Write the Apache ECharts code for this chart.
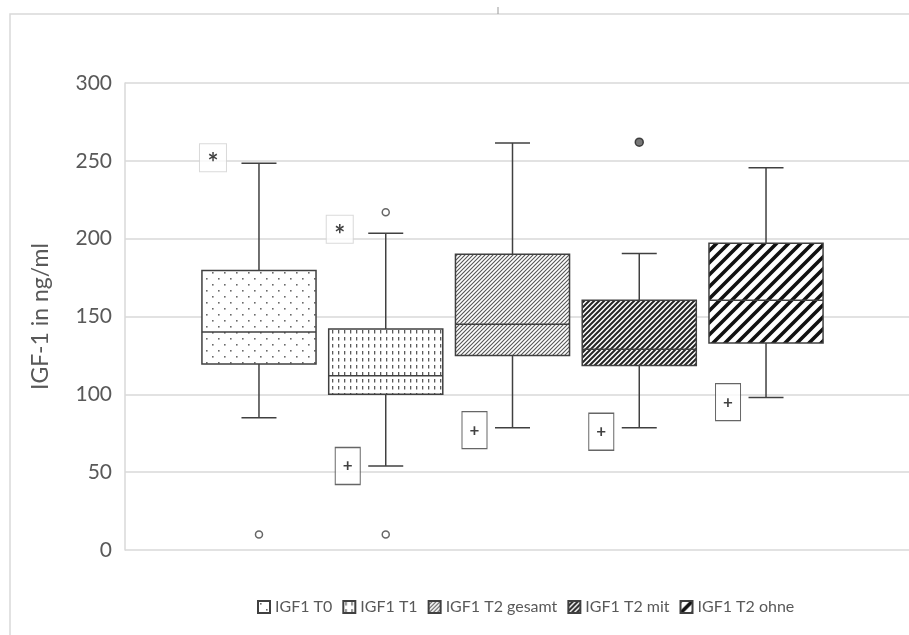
<!DOCTYPE html>
<html>
<head>
<meta charset="utf-8">
<script src="https://cdn.jsdelivr.net/npm/echarts@6/dist/echarts.min.js"></script>
<style>
  html, body { margin: 0; padding: 0; background: #fff; }
  #chart { width: 909px; height: 635px; }
</style>
</head>
<body>
<div id="chart"></div>
<script>
// categories and box values (IGF-1 in ng/ml)
var categories = ['IGF1 T0', 'IGF1 T1', 'IGF1 T2 gesamt', 'IGF1 T2 mit', 'IGF1 T2 ohne'];
var whiskerLow  = [85, 54, 78.5, 78.5, 98];
var q1Values    = [119.5, 100, 125, 118.5, 133];
var medianVals  = [140, 112, 145, 129, 160.5];
var q3Values    = [179.5, 142, 190, 160.5, 197];
var whiskerHigh = [248.5, 203.5, 261.5, 190.5, 245.5];

// outliers [category index, value]
var openOutliers   = [[0, 10], [1, 217], [1, 10]];
var filledOutliers = [[3, 262]];

// marks next to the boxes
var starMarks = [[0, 252], [1, 206]];
var plusMarks = [[1, 54], [2, 77], [3, 76], [4, 95]];

var yTicks = [0, 50, 100, 150, 200, 250, 300];

var textColor = '#595959';
var gridColor = '#d9d9d9';
var lineColor = '#404040';
var fontName = 'Lato, "Open Sans", sans-serif';

//////////// 패턴 ////////////
function makeTile(w, h, draw) {
	var c = document.createElement('canvas');
	c.width = w;
	c.height = h;
	var ctx = c.getContext('2d');
	ctx.fillStyle = '#fff';
	ctx.fillRect(0, 0, w, h);
	draw(ctx, w, h);
	return { image: c, repeat: 'repeat' };
}

function diagTile(s, color, width) {
	return makeTile(s, s, function(ctx) {
		ctx.strokeStyle = color;
		ctx.lineWidth = width;
		ctx.beginPath();
		ctx.moveTo(-2, s + 2); ctx.lineTo(s + 2, -2);
		ctx.moveTo(-2, 2); ctx.lineTo(2, -2);
		ctx.moveTo(s - 2, s + 2); ctx.lineTo(s + 2, s - 2);
		ctx.stroke();
	});
}

var patterns = [
	makeTile(12, 12, function(ctx) {
		ctx.fillStyle = '#6a6a6a';
		ctx.fillRect(2, 2, 1.6, 1.6);
		ctx.fillRect(8, 8, 1.6, 1.6);
	}),
	makeTile(6, 7, function(ctx) {
		ctx.fillStyle = '#5a5a5a';
		ctx.fillRect(2, 1, 1.3, 3.5);
	}),
	diagTile(4, '#555', 1.1),
	diagTile(5, '#262626', 2),
	diagTile(12, '#111', 3.6)
];

//////////// 박스 ////////////
function renderBox(params, api) {
	var x = api.value(0);
	var lo = api.coord([x, api.value(1)]);
	var q1 = api.coord([x, api.value(2)]);
	var md = api.coord([x, api.value(3)]);
	var q3 = api.coord([x, api.value(4)]);
	var hi = api.coord([x, api.value(5)]);
	var band = api.size([1, 0])[0];
	var half = band * 0.45;
	var cap = 17.5;
	var cx = q1[0];
	var ls = { stroke: lineColor, lineWidth: 1.5 };
	return {
		type: 'group',
		children: [
			{ type: 'line', shape: { x1: cx, y1: hi[1], x2: cx, y2: q3[1] }, style: ls },
			{ type: 'line', shape: { x1: cx, y1: q1[1], x2: cx, y2: lo[1] }, style: ls },
			{ type: 'line', shape: { x1: cx - cap, y1: hi[1], x2: cx + cap, y2: hi[1] }, style: ls },
			{ type: 'line', shape: { x1: cx - cap, y1: lo[1], x2: cx + cap, y2: lo[1] }, style: ls },
			{
				type: 'rect',
				shape: { x: cx - half, y: q3[1], width: half * 2, height: q1[1] - q3[1] },
				style: { fill: patterns[params.seriesIndex], stroke: lineColor, lineWidth: 1.5 }
			},
			{ type: 'line', shape: { x1: cx - half, y1: md[1], x2: cx + half, y2: md[1] }, style: ls }
		]
	};
}

var series = [];
categories.forEach(function(name, i) {
	series.push({
		name: name,
		type: 'custom',
		xAxisIndex: 1,
		yAxisIndex: 1,
		renderItem: renderBox,
		itemStyle: { color: patterns[i], borderColor: lineColor, borderWidth: 1 },
		encode: { x: 0, y: [1, 2, 3, 4, 5] },
		data: [[i, whiskerLow[i], q1Values[i], medianVals[i], q3Values[i], whiskerHigh[i]]],
		z: 3
	});
});

series.push({
	name: 'Ausreißer',
	type: 'scatter',
	xAxisIndex: 1,
	yAxisIndex: 1,
	symbol: 'circle',
	symbolSize: 7,
	itemStyle: { color: '#fff', borderColor: lineColor, borderWidth: 1.5 },
	data: openOutliers,
	z: 4
});
series.push({
	name: 'Ausreißer extrem',
	type: 'scatter',
	xAxisIndex: 1,
	yAxisIndex: 1,
	symbol: 'circle',
	symbolSize: 8,
	itemStyle: { color: '#555', borderColor: '#222', borderWidth: 1.5 },
	data: filledOutliers,
	z: 4
});
series.push({
	name: 'Stern',
	type: 'scatter',
	xAxisIndex: 1,
	yAxisIndex: 1,
	symbol: 'rect',
	symbolSize: [27, 28],
	symbolOffset: [-46, 0],
	itemStyle: { color: '#fff', borderColor: '#d0d0d0', borderWidth: 1 },
	label: {
		show: true, position: 'inside', formatter: '*',
		color: '#111', fontSize: 26, fontWeight: 'bold', fontFamily: fontName, offset: [0, 6]
	},
	data: starMarks,
	z: 5
});
series.push({
	name: 'Plus',
	type: 'scatter',
	xAxisIndex: 1,
	yAxisIndex: 1,
	symbol: 'rect',
	symbolSize: [25, 37],
	symbolOffset: [-38, 0],
	itemStyle: { color: '#fff', borderColor: lineColor, borderWidth: 1.2 },
	label: {
		show: true, position: 'inside', formatter: '+',
		color: '#111', fontSize: 17, fontWeight: 'bold', fontFamily: fontName
	},
	data: plusMarks,
	z: 5
});

var chart = echarts.init(document.getElementById('chart'));
var option = {
	animation: false,
	backgroundColor: '#fff',
	textStyle: { fontFamily: fontName },
	graphic: [
		{ type: 'rect', shape: { x: 10, y: 14, width: 920, height: 640 }, style: { fill: 'none', stroke: gridColor, lineWidth: 1.5 }, silent: true },
		{ type: 'line', shape: { x1: 498, y1: 7, x2: 498, y2: 14 }, style: { stroke: '#999', lineWidth: 1 }, silent: true }
	],
	grid: [
		{ left: 125, right: 0, top: 83, bottom: 85 },
		{ left: 195.6, right: 79.6, top: 83, bottom: 85 }
	],
	legend: {
		data: categories,
		left: 252,
		top: 594,
		icon: 'rect',
		itemWidth: 12,
		itemHeight: 12,
		itemGap: 10,
		textStyle: { color: textColor, fontSize: 16, fontFamily: fontName }
	},
	xAxis: [
		{ type: 'value', gridIndex: 0, min: 0, max: 1, show: false },
		{ type: 'category', gridIndex: 1, data: categories, show: false }
	],
	yAxis: [
		{
			type: 'value', gridIndex: 0, min: yTicks[0], max: yTicks[yTicks.length - 1], interval: 50,
			name: 'IGF-1 in ng/ml', nameLocation: 'middle', nameRotate: 90, nameGap: 73,
			nameTextStyle: { color: textColor, fontSize: 23, fontFamily: fontName },
			axisLine: { show: true, lineStyle: { color: gridColor, width: 1.5 } },
			axisTick: { show: false },
			axisLabel: { color: textColor, fontSize: 21, margin: 13, fontFamily: fontName },
			splitLine: { lineStyle: { color: gridColor, width: 1.5 } }
		},
		{ type: 'value', gridIndex: 1, min: 0, max: 300, show: false, splitLine: { show: false } }
	],
	series: series
};
chart.setOption(option);
</script>
</body>
</html>
